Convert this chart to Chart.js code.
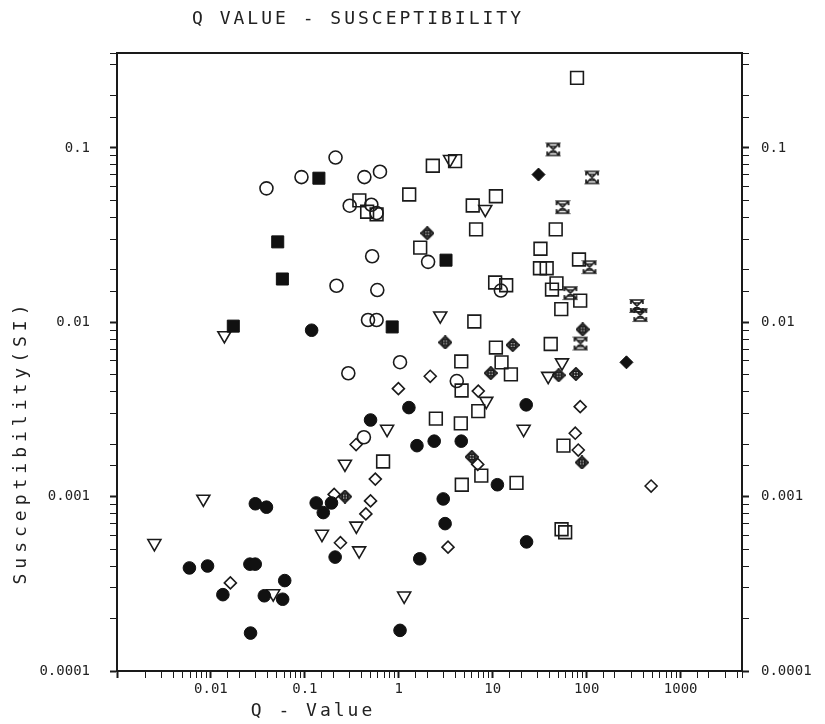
<!DOCTYPE html>
<html>
<head>
<meta charset="utf-8">
<script src="https://cdn.jsdelivr.net/npm/chart.js@4"></script>
<style>
  body { margin: 0; background: #fff; }
  #wrap { position: relative; width: 825px; height: 724px; }
  #c { display: block; }
  .lbl { position: absolute; font-family: "DejaVu Sans Mono", monospace; color: #222; white-space: nowrap; }
</style>
</head>
<body>
<div id="wrap">
  <canvas id="c" width="825" height="724"></canvas>
  <div class="lbl" style="left:158px;top:7px;width:400px;text-align:center;font-size:18px;letter-spacing:3px">Q VALUE - SUSCEPTIBILITY</div>
  <div class="lbl" style="left:213px;top:699px;width:200px;text-align:center;font-size:18px;letter-spacing:3px">Q - Value</div>
  <div class="lbl" style="left:-130px;top:431px;width:300px;height:22px;text-align:center;font-size:18px;letter-spacing:5px;transform:rotate(-90deg)">Susceptibility(SI)</div>
</div>
<script>
// Q value / susceptibility pairs, one pair of arrays per marker type
const openCircleQ = [0.039, 0.092, 0.212, 0.43, 0.63, 0.30, 0.51, 0.58, 0.52, 0.217, 0.59, 0.47, 0.58, 2.05, 1.03, 0.29, 0.425, 4.14, 12.2];
const openCircleS = [0.0586, 0.068, 0.088, 0.068, 0.073, 0.0466, 0.0472, 0.0423, 0.0239, 0.0162, 0.0153, 0.0103, 0.0103, 0.0222, 0.0059, 0.0051, 0.00219, 0.0046, 0.0152];

const dotQ = [0.118, 0.0059, 0.0092, 0.026, 0.0296, 0.0297, 0.039, 0.0134, 0.037, 0.058, 0.061, 0.0264, 0.132, 0.157, 0.192, 0.21, 0.50, 1.28, 1.56, 1.67, 1.03, 2.38, 4.62, 2.97, 3.11, 11.2, 22.7, 22.9];
const dotS = [0.0090, 0.00039, 0.00040, 0.00041, 0.00041, 0.00091, 0.00087, 0.000274, 0.00027, 0.000258, 0.00033, 0.000165, 0.00092, 0.00081, 0.00092, 0.00045, 0.00275, 0.00324, 0.00196, 0.00044, 0.000171, 0.00208, 0.00208, 0.00097, 0.00070, 0.00117, 0.00336, 0.00055];

const openSquareQ = [78.9, 2.30, 3.97, 1.29, 0.38, 0.46, 0.58, 6.12, 10.8, 6.64, 1.69, 10.6, 13.9, 6.36, 10.8, 4.62, 12.4, 15.6, 4.66, 7.01, 2.48, 4.57, 0.68, 7.55, 4.68, 17.9, 46.8, 32.2, 31.8, 37.5, 82.8, 47.7, 42.7, 85.3, 53.6, 41.4, 56.6, 54.0, 59.0];
const openSquareS = [0.252, 0.079, 0.084, 0.054, 0.050, 0.043, 0.0416, 0.0467, 0.0528, 0.0341, 0.0268, 0.0169, 0.0163, 0.0101, 0.00716, 0.00596, 0.00589, 0.00502, 0.00406, 0.00309, 0.0028, 0.00263, 0.00159, 0.00132, 0.00117, 0.0012, 0.0341, 0.0264, 0.0204, 0.0204, 0.0229, 0.0167, 0.0154, 0.0133, 0.0119, 0.0075, 0.00196, 0.00065, 0.000625];

const blockQ = [0.141, 0.0514, 0.0576, 0.0173, 0.85, 3.18];
const blockS = [0.067, 0.0289, 0.0177, 0.0095, 0.0094, 0.0227];

const triangleQ = [0.0139, 3.51, 8.32, 2.76, 0.0083, 0.0025, 0.046, 0.152, 0.267, 0.75, 0.353, 0.378, 1.14, 8.53, 21.3, 54.6, 38.9];
const triangleS = [0.0084, 0.086, 0.0445, 0.0109, 0.00097, 0.00054, 0.000278, 0.00061, 0.00154, 0.00244, 0.00068, 0.00049, 0.00027, 0.00353, 0.00244, 0.00587, 0.00491];

const diamondQ = [0.0161, 0.205, 0.239, 0.351, 0.562, 0.50, 0.446, 0.99, 2.16, 7.01, 6.92, 3.34, 85.3, 75.5, 81.3, 485];
const diamondS = [0.00032, 0.00103, 0.000544, 0.00199, 0.00126, 0.000945, 0.000796, 0.00416, 0.0049, 0.00403, 0.00153, 0.000513, 0.00328, 0.00231, 0.00185, 0.00115];

const crossDiamondQ = [2.01, 3.12, 16.3, 9.52, 0.267, 5.98, 50.3, 76.7, 90.6, 88.9];
const crossDiamondS = [0.0324, 0.00766, 0.0074, 0.00511, 0.00100, 0.00169, 0.00497, 0.00505, 0.0091, 0.00157];

const solidDiamondQ = [30.7, 265];
const solidDiamondS = [0.0703, 0.00589];

const hourglassQ = [44.0, 114, 55.3, 107, 67.1, 342, 372, 85.9];
const hourglassS = [0.098, 0.0677, 0.0457, 0.0207, 0.0147, 0.0124, 0.0110, 0.00755];

const xMin = 0.001, xMax = 4500;
const yMin = 0.0001, yMax = 0.35;

const ink = '#1a1a1a';
const monoFont = { family: 'DejaVu Sans Mono', size: 14 };

function pairs(qs, ss) {
  return qs.map((q, i) => ({ x: q, y: ss[i] }));
}

// small hand-drawn markers for the two symbols Chart.js lacks
function hourglassMark() {
  const c = document.createElement('canvas');
  c.width = 16; c.height = 16;
  const g = c.getContext('2d');
  g.strokeStyle = ink; g.lineWidth = 1.7;
  g.beginPath();
  g.moveTo(2, 2); g.lineTo(14, 2); g.lineTo(2, 14); g.lineTo(14, 14); g.closePath();
  g.moveTo(2, 2); g.lineTo(2, 6); g.moveTo(14, 2); g.lineTo(14, 6);
  g.moveTo(2, 14); g.lineTo(2, 10); g.moveTo(14, 14); g.lineTo(14, 10);
  g.moveTo(5, 5); g.lineTo(11, 5); g.moveTo(5, 11); g.lineTo(11, 11);
  g.stroke();
  return c;
}

function crossDiamondMark() {
  const c = document.createElement('canvas');
  c.width = 14; c.height = 14;
  const g = c.getContext('2d');
  g.strokeStyle = ink; g.lineWidth = 2;
  g.beginPath();
  g.moveTo(7, 1); g.lineTo(13, 7); g.lineTo(7, 13); g.lineTo(1, 7); g.closePath();
  g.stroke();
  g.lineWidth = 1.5;
  g.beginPath();
  g.arc(7, 7, 3, 0, Math.PI * 2);
  g.moveTo(7, 3); g.lineTo(7, 11); g.moveTo(3, 7); g.lineTo(11, 7);
  g.stroke();
  return c;
}

function decadeLabel(v, lowest) {
  const l = Math.log10(v);
  const r = Math.round(l);
  if (Math.abs(l - r) > 1e-6 || r < lowest) return '';
  const p = Math.pow(10, r);
  return r >= 0 ? String(p) : p.toFixed(-r);
}

function isDecade(v) {
  const l = Math.log10(v);
  return Math.abs(l - Math.round(l)) < 1e-6;
}

const tickGrid = {
  drawOnChartArea: false,
  tickLength: 7,
  color: ink,
  tickWidth: ctx => (ctx.tick && isDecade(ctx.tick.value) ? 2 : 1),
};
const frame = { color: ink, width: 2 };

new Chart(document.getElementById('c'), {
  type: 'scatter',
  data: {
    datasets: [
      { label: 'open circle', data: pairs(openCircleQ, openCircleS), pointStyle: 'circle', pointRadius: 6.5,
        backgroundColor: 'rgba(0,0,0,0)', borderColor: ink, borderWidth: 1.6 },
      { label: 'filled circle', data: pairs(dotQ, dotS), pointStyle: 'circle', pointRadius: 6.3,
        backgroundColor: '#111', borderColor: '#111', borderWidth: 1 },
      { label: 'open square', data: pairs(openSquareQ, openSquareS), pointStyle: 'rect', pointRadius: 9,
        backgroundColor: 'rgba(0,0,0,0)', borderColor: ink, borderWidth: 1.6 },
      { label: 'filled square', data: pairs(blockQ, blockS), pointStyle: 'rect', pointRadius: 8.5,
        backgroundColor: '#111', borderColor: '#111', borderWidth: 1 },
      { label: 'triangle', data: pairs(triangleQ, triangleS), pointStyle: 'triangle', rotation: 180, pointRadius: 7.5,
        backgroundColor: 'rgba(0,0,0,0)', borderColor: ink, borderWidth: 1.6 },
      { label: 'diamond', data: pairs(diamondQ, diamondS), pointStyle: 'rectRot', pointRadius: 6,
        backgroundColor: 'rgba(0,0,0,0)', borderColor: ink, borderWidth: 1.6 },
      { label: 'crossed diamond', data: pairs(crossDiamondQ, crossDiamondS), pointStyle: crossDiamondMark() },
      { label: 'solid diamond', data: pairs(solidDiamondQ, solidDiamondS), pointStyle: 'rectRot', pointRadius: 6.5,
        backgroundColor: '#111', borderColor: '#111', borderWidth: 1 },
      { label: 'hourglass', data: pairs(hourglassQ, hourglassS), pointStyle: hourglassMark() },
    ],
  },
  options: {
    responsive: false,
    animation: false,
    events: [],
    layout: { padding: 0 },
    plugins: { legend: { display: false }, tooltip: { enabled: false } },
    scales: {
      x: {
        type: 'logarithmic', position: 'bottom', min: xMin, max: xMax,
        afterFit: s => { s.height = 53; },
        border: frame, grid: tickGrid,
        ticks: { autoSkip: false, maxRotation: 0, padding: 3, color: '#222', font: monoFont,
          callback: v => decadeLabel(v, -2) },
      },
      xTop: {
        axis: 'x', type: 'logarithmic', position: 'top', min: xMin, max: xMax,
        afterFit: s => { s.height = 53; },
        border: frame, grid: { display: false }, ticks: { display: false },
      },
      y: {
        type: 'logarithmic', position: 'left', min: yMin, max: yMax,
        afterFit: s => { s.width = 117; },
        border: frame, grid: tickGrid,
        ticks: { autoSkip: false, padding: 20, color: '#222', font: monoFont,
          callback: v => decadeLabel(v, -4) },
      },
      y2: {
        axis: 'y', type: 'logarithmic', position: 'right', min: yMin, max: yMax,
        afterFit: s => { s.width = 83; },
        border: frame, grid: tickGrid,
        ticks: { autoSkip: false, padding: 12, color: '#222', font: monoFont,
          callback: v => decadeLabel(v, -4) },
      },
    },
  },
});
</script>
</body>
</html>
